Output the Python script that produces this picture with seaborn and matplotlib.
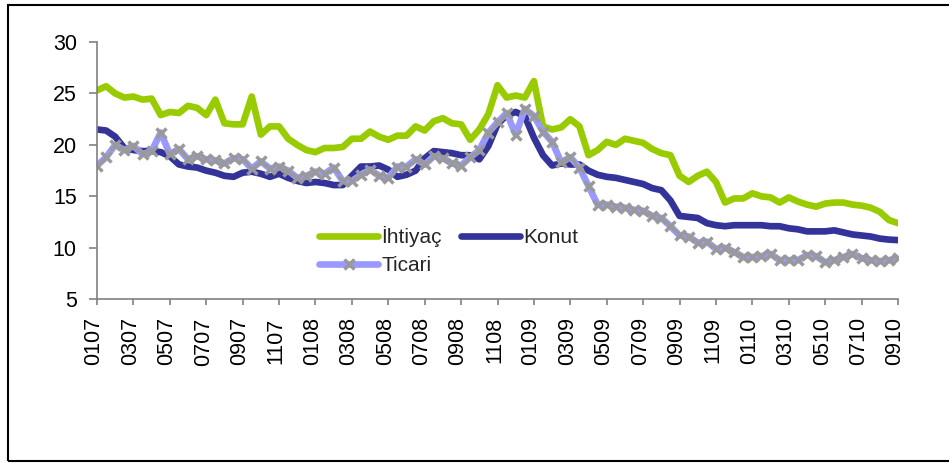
import numpy as np
import pandas as pd
import matplotlib
matplotlib.use("Agg")
import matplotlib.pyplot as plt
import matplotlib.transforms as mtransforms
from matplotlib.patches import Rectangle
import seaborn as sns

# Tick labels (MMYY), one every 2 months; data sampled twice a month
tick_labels = ["0107", "0307", "0507", "0707", "0907", "1107",
               "0108", "0308", "0508", "0708", "0908", "1108",
               "0109", "0309", "0509", "0709", "0909", "1109",
               "0110", "0310", "0510", "0710", "0910"]

ihtiyac = [25.3, 25.7, 25.0, 24.6, 24.7, 24.4, 24.5, 22.9, 23.2, 23.1,
           23.8, 23.6, 22.9, 24.4, 22.1, 22.0, 22.0, 24.7, 21.0, 21.8,
           21.8, 20.6, 20.0, 19.5, 19.3, 19.7, 19.7, 19.8, 20.6, 20.6,
           21.3, 20.8, 20.5, 20.9, 20.9, 21.8, 21.4, 22.3, 22.6, 22.1,
           22.0, 20.5, 21.5, 23.0, 25.8, 24.6, 24.8, 24.6, 26.2, 21.8,
           21.5, 21.7, 22.5, 21.8, 19.0, 19.5, 20.3, 20.0, 20.6, 20.4,
           20.2, 19.6, 19.2, 19.0, 17.0, 16.4, 17.0, 17.4, 16.4, 14.4,
           14.8, 14.8, 15.3, 15.0, 14.9, 14.4, 14.9, 14.5, 14.2, 14.0,
           14.3, 14.4, 14.4, 14.2, 14.1, 13.9, 13.5, 12.7, 12.4]

konut = [21.5, 21.4, 20.8, 19.7, 19.5, 19.4, 19.4, 19.3, 18.9, 18.1,
         17.9, 17.8, 17.5, 17.3, 17.0, 16.9, 17.3, 17.4, 17.2, 16.9,
         17.2, 16.8, 16.5, 16.3, 16.4, 16.3, 16.1, 16.1, 17.0, 17.9,
         17.9, 18.0, 17.6, 16.9, 17.1, 17.5, 18.7, 19.4, 19.3, 19.2,
         19.0, 19.0, 18.6, 19.9, 22.0, 22.9, 23.2, 22.8, 20.7, 19.0,
         18.0, 18.2, 18.1, 18.1, 17.5, 17.1, 16.9, 16.8, 16.6, 16.4,
         16.2, 15.8, 15.6, 14.6, 13.1, 13.0, 12.9, 12.4, 12.2, 12.1,
         12.2, 12.2, 12.2, 12.2, 12.1, 12.1, 11.9, 11.8, 11.6, 11.6,
         11.6, 11.7, 11.5, 11.3, 11.2, 11.1, 10.9, 10.8, 10.75]

ticari = [18.0, 18.8, 20.0, 19.5, 19.9, 19.1, 19.4, 21.2, 19.1, 19.6,
          18.6, 18.9, 18.6, 18.5, 18.2, 18.7, 18.6, 17.7, 18.4, 17.7,
          17.9, 17.5, 16.8, 17.0, 17.4, 17.2, 17.8, 16.5, 16.5, 17.1,
          17.6, 17.0, 16.8, 17.9, 17.9, 18.6, 18.1, 18.9, 18.7, 18.2,
          18.0, 18.8, 19.5, 21.2, 22.2, 23.1, 21.0, 23.5, 22.8, 21.3,
          20.3, 18.3, 18.8, 17.8, 16.0, 14.2, 14.2, 14.0, 13.9, 13.7,
          13.6, 13.1, 12.9, 12.1, 11.2, 11.1, 10.5, 10.6, 9.9, 10.0,
          9.6, 9.1, 9.1, 9.2, 9.4, 8.8, 8.8, 8.8, 9.3, 9.2,
          8.6, 8.8, 9.1, 9.4, 9.0, 8.8, 8.7, 8.8, 9.0]

series_names = ["İhtiyaç", "Konut", "Ticari"]

df = pd.DataFrame({"idx": np.arange(len(ihtiyac)),
                   "ihtiyac": ihtiyac, "konut": konut, "ticari": ticari})

sns.set_theme(style="white")
plt.rcParams["font.family"] = ["Liberation Sans", "DejaVu Sans"]

W, H = 949, 463
fig = plt.figure(figsize=(W / 100, H / 100), dpi=100)
ax = fig.add_axes([97 / W, 1 - 299.3 / H, (898 - 97) / W, (299.3 - 42) / H])

lw = 4.8
sns.lineplot(data=df, x="idx", y="ihtiyac", ax=ax, color="#99CC00",
             linewidth=lw, label=series_names[0], solid_capstyle="round",
             solid_joinstyle="round")
sns.lineplot(data=df, x="idx", y="konut", ax=ax, color="#333399",
             linewidth=lw, label=series_names[1], solid_capstyle="round",
             solid_joinstyle="round")
sns.lineplot(data=df, x="idx", y="ticari", ax=ax, color="#9999FF",
             linewidth=lw, label=series_names[2], marker="x", markersize=7,
             markeredgecolor="#999999", markeredgewidth=2.5,
             solid_capstyle="round", solid_joinstyle="round")

ax.set_xlim(0, len(ihtiyac) - 1)
ax.set_ylim(5, 30)
ax.set_yticks([5, 10, 15, 20, 25, 30])
step = (len(ihtiyac) - 1) // (len(tick_labels) - 1)
ax.set_xticks(np.arange(0, len(ihtiyac), step))
ax.set_xticklabels(tick_labels, rotation=90)
ax.set_xlabel("")
ax.set_ylabel("")

for s in ["top", "right"]:
    ax.spines[s].set_visible(False)
for s in ["left", "bottom"]:
    ax.spines[s].set_color("#808080")
    ax.spines[s].set_linewidth(1.2)

ax.tick_params(axis="y", direction="out", length=5.5, width=1.2,
               color="#808080", labelsize=15.5, pad=9, labelcolor="black",
               left=True)
ax.tick_params(axis="x", direction="out", length=4, width=1.2,
               color="#808080", labelsize=15.5, pad=9, labelcolor="black",
               bottom=True)

offset = mtransforms.ScaledTranslation(-3 / 100, 0, fig.dpi_scale_trans)
for lab in ax.get_xticklabels():
    lab.set_transform(lab.get_transform() + offset)

handles, labels = ax.get_legend_handles_labels()
order = [0, 2, 1]
ax.legend([handles[i] for i in order], [labels[i] for i in order],
          ncol=2, frameon=False, fontsize=15, loc="upper left",
          bbox_to_anchor=(319 / W, 1 - 226 / H),
          bbox_transform=fig.transFigure, borderpad=0, borderaxespad=0,
          handlelength=2.85, handletextpad=0.15, columnspacing=0.9,
          labelspacing=0.42)

fig.add_artist(Rectangle((8 / W, 2 / H), 1.05, (461 - 5) / H,
                         transform=fig.transFigure, fill=False,
                         edgecolor="black", linewidth=1.5))

fig.savefig("out.png", dpi=100, facecolor="white")
